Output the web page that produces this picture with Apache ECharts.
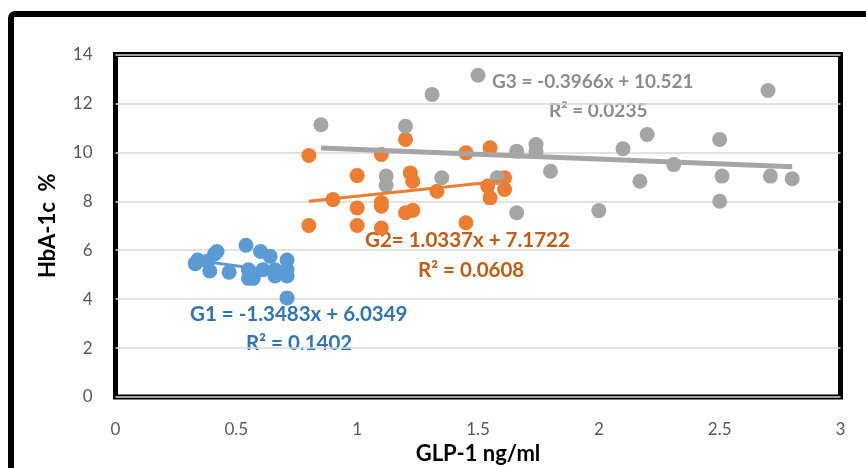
<!DOCTYPE html>
<html>
<head>
<meta charset="utf-8">
<script src="https://cdn.jsdelivr.net/npm/echarts@6/dist/echarts.min.js"></script>
<style>
  html, body { margin: 0; padding: 0; background: #fff; }
  #chart { width: 866px; height: 468px; }
</style>
</head>
<body>
<div id="chart"></div>
<script>
// data: [GLP-1 ng/ml, HbA-1c %]
var g1Points = [
  [0.33, 5.45], [0.34, 5.6], [0.38, 5.55], [0.39, 5.15], [0.41, 5.85], [0.42, 5.95],
  [0.47, 5.1], [0.54, 6.2], [0.55, 5.2], [0.55, 4.85], [0.57, 4.85], [0.60, 5.95],
  [0.61, 5.2], [0.64, 5.75], [0.66, 4.95], [0.66, 5.2], [0.71, 5.6], [0.71, 5.2],
  [0.71, 4.95], [0.71, 4.05]
];
var g2Points = [
  [0.80, 9.87], [0.80, 7.01], [0.90, 8.07], [1.00, 9.05], [1.00, 7.73], [1.00, 7.01],
  [1.10, 9.91], [1.10, 7.95], [1.10, 7.8], [1.10, 6.91], [1.20, 10.53], [1.22, 9.16],
  [1.23, 8.82], [1.20, 7.53], [1.23, 7.63], [1.33, 8.41], [1.45, 9.98], [1.45, 7.12],
  [1.55, 10.19], [1.54, 8.62], [1.55, 8.14], [1.61, 8.96], [1.61, 8.48]
];
var g3Points = [
  [0.85, 11.13], [1.31, 12.37], [1.50, 13.15], [1.20, 11.07], [1.12, 9.03], [1.12, 8.65],
  [1.35, 8.96], [1.58, 8.96], [1.66, 10.05], [1.74, 10.32], [1.74, 10.05], [1.80, 9.23],
  [1.66, 7.53], [2.00, 7.62], [2.10, 10.15], [2.20, 10.73], [2.17, 8.82], [2.31, 9.50],
  [2.50, 10.53], [2.51, 9.03], [2.50, 8.00], [2.70, 12.53], [2.71, 9.03], [2.80, 8.92]
];
// trend line end points
var g1Trend = [[0.33, 5.59], [0.71, 5.08]];
var g2Trend = [[0.80, 8.00], [1.62, 8.85]];
var g3Trend = [[0.85, 10.18], [2.80, 9.41]];

var eqTexts = {
  g1: 'G1 = -1.3483x + 6.0349', g1r: 'R² = 0.1402',
  g2: 'G2= 1.0337x + 7.1722', g2r: 'R² = 0.0608',
  g3: 'G3 = -0.3966x + 10.521', g3r: 'R² = 0.0235'
};

var blue = '#5B9BD5', orange = '#ED7D31', grey = '#A5A5A5';
var font = 'Lato, "Open Sans", sans-serif';

var chart = echarts.init(document.getElementById('chart'));

function dots(name, data, color) {
  return { name: name, type: 'scatter', data: data, symbolSize: 15,
           itemStyle: { color: color, opacity: 1 }, z: 3 };
}
function trend(name, data, color, w) {
  return { name: name, type: 'line', data: data, symbol: 'none',
           lineStyle: { color: color, width: w }, z: 4 };
}
function txt(s, x, y, color, size) {
  return { type: 'text', left: x, top: y,
           style: { text: s, fill: color, font: 'bold ' + size + 'px ' + font } };
}

chart.setOption({
  animation: false,
  grid: { left: 115.5, right: 25.5, top: 54.5, bottom: 71, show: true,
          outerBoundsMode: 'none', containLabel: false,
          borderColor: '#000', borderWidth: 5 },
  xAxis: {
    type: 'value', min: 0, max: 3, interval: 0.5,
    name: 'GLP-1 ng/ml', nameLocation: 'middle', nameGap: 42,
    nameTextStyle: { color: '#000', fontSize: 22, fontWeight: 'bold', fontFamily: font },
    axisLine: { show: false }, axisTick: { show: false }, splitLine: { show: false },
    axisLabel: { color: '#595959', fontSize: 17, fontFamily: font, margin: 24 }
  },
  yAxis: {
    type: 'value', min: 0, max: 14, interval: 2,
    name: 'HbA-1c  %', nameLocation: 'middle', nameGap: 57,
    nameTextStyle: { color: '#000', fontSize: 22, fontWeight: 'bold', fontFamily: font },
    axisLine: { show: false }, axisTick: { show: false },
    splitLine: { lineStyle: { color: '#D9D9D9', width: 1.5 } },
    axisLabel: { color: '#595959', fontSize: 17, fontFamily: font, margin: 23 }
  },
  graphic: [
    { type: 'rect', shape: { x: 11, y: 14, width: 900, height: 600, r: 4 },
      style: { fill: 'none', stroke: '#000', lineWidth: 6 }, silent: true },
    txt(eqTexts.g3, 492, 72, '#8C8C8C', 19),
    txt(eqTexts.g3r, 549, 101, '#8C8C8C', 19),
    txt(eqTexts.g2, 365, 230, '#C55A11', 20.5),
    txt(eqTexts.g2r, 418, 260, '#C55A11', 20.5),
    txt(eqTexts.g1, 190, 304, '#2E75B6', 20.5),
    txt(eqTexts.g1r, 246, 333, '#2E75B6', 20.5)
  ],
  series: [
    dots('G1', g1Points, blue),
    dots('G2', g2Points, orange),
    dots('G3', g3Points, grey),
    trend('G1 trend', g1Trend, blue, 3),
    trend('G2 trend', g2Trend, orange, 3),
    trend('G3 trend', g3Trend, grey, 5)
  ]
});
</script>
</body>
</html>
